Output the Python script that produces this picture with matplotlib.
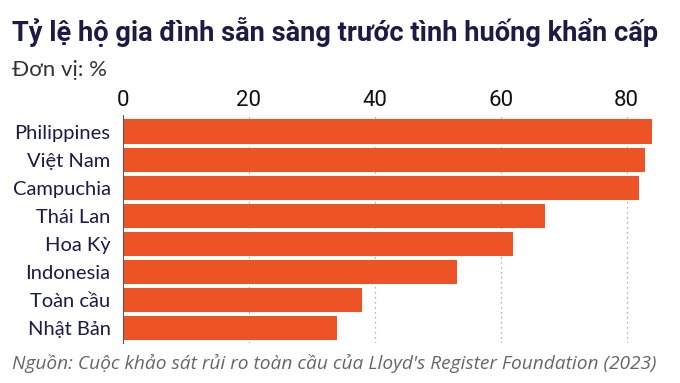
import matplotlib
matplotlib.use("Agg")
import matplotlib.pyplot as plt

# du lieu doc tu hinh
countries = ["Philippines", "Việt Nam", "Campuchia", "Thái Lan",
             "Hoa Kỳ", "Indonesia", "Toàn cầu", "Nhật Bản"]
values = [84, 83, 82, 67, 62, 53, 38, 34]
ticks = [0, 20, 40, 60, 80]

navy = "#1c1a46"
orange = "#ee5326"

fig = plt.figure(figsize=(6.8, 3.83), dpi=100)
ax = fig.add_axes([123/680, 1-343/383, (658-123)/680, (343-115)/383])

y = list(range(len(countries)))
ax.barh(y, values, height=0.88, color=orange, zorder=2)
ax.set_ylim(len(countries)-0.5+0.03, -0.5-0.1)
ax.set_xlim(0, 85)

ax.set_yticks(y)
ax.set_yticklabels(countries, fontsize=14.5, color=navy, family="Lato")
ax.set_xticks(ticks)
ax.set_xticklabels([str(t) for t in ticks], fontsize=16, color="#111111", family="Roboto")
ax.xaxis.tick_top()
ax.tick_params(axis="both", length=0, pad=3)
ax.tick_params(axis="y", pad=9)

for t in ticks[1:]:
    ax.axvline(t, color="#999999", lw=0.9, ls=(0, (1, 3)), zorder=1)
for s in ["top", "right", "bottom"]:
    ax.spines[s].set_visible(False)
ax.spines["left"].set_color("#555555")
ax.spines["left"].set_linewidth(0.8)

fig.text(12/680, 1-32/383, "Tỷ lệ hộ gia đình sẵn sàng trước tình huống khẩn cấp",
         fontsize=19.6, fontweight="bold", color=navy, family="Roboto",
         va="center", ha="left")
fig.text(12/680, 1-70/383, "Đơn vị: %", fontsize=16, color="#333333",
         family="Lato", va="center", ha="left")
fig.text(12/680, 1-363/383,
         "Nguồn: Cuộc khảo sát rủi ro toàn cầu của Lloyd's Register Foundation (2023)",
         fontsize=13.8, style="italic", color="#666666", family="Open Sans",
         va="center", ha="left")

fig.savefig("out.png", dpi=100)
